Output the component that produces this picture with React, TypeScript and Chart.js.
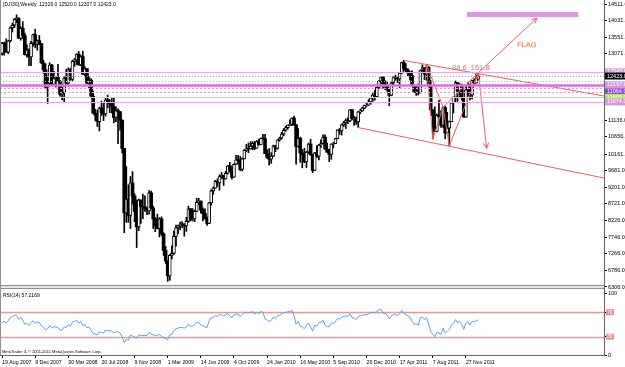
import React, { useEffect, useRef } from 'react';
import { Chart, registerables } from 'chart.js';

Chart.register(...registerables);

const FONT = '"Liberation Sans", Arial, sans-serif';

const symbolName = '[DJI30],Weekly';

// x-axis date labels and the bar index each one sits on
const dateLabels = ['19 Aug 2007', '9 Dec 2007', '30 Mar 2008', '20 Jul 2008', '9 Nov 2008', '1 Mar 2009', '14 Jun 2009', '4 Oct 2009', '24 Jan 2010', '16 May 2010', '5 Sep 2010', '26 Dec 2010', '17 Apr 2011', '7 Aug 2011', '27 Nov 2011'];
const dateTickIndex = [0, 16, 32, 48, 64, 80, 96, 112, 128, 144, 160, 176, 192, 208, 224];

// weekly OHLC
const opens = [
  13080, 13378, 13358, 13113, 13442, 13821, 13896, 14066, 14093, 13522,
  13806, 13595, 13042, 13176, 12980, 13372, 13625, 13339, 13450, 13366,
  12800, 12606, 12099, 12207, 12743, 12182, 12348, 12381, 12266, 11894,
  11951, 12361, 12216, 12610, 12325, 12849, 12891, 13058, 12746, 12986,
  12480, 12638, 12210, 12308, 11843, 11346, 11288, 11100, 11497, 11370,
  11326, 11734, 11659, 11628, 11544, 11220, 11422, 11388, 11143, 10325,
  8451, 8852, 8378, 9325, 8943, 8497, 8046, 8829, 8635, 8629,
  8579, 8515, 9034, 8599, 8281, 8077, 8000, 8280, 7850, 7366,
  7062, 6627, 7224, 7279, 7776, 8018, 8083, 8131, 8131, 8076,
  8212, 8575, 8268, 8277, 8500, 8764, 8799, 8539, 8438, 8280,
  8146, 8743, 9093, 9172, 9370, 9321, 9505, 9544, 9441, 9605,
  9820, 9665, 9488, 9865, 9996, 9972, 9713, 10023, 10270, 10318,
  10310, 10388, 10471, 10329, 10520, 10428, 10618, 10610, 10173, 10067,
  10012, 10099, 10402, 10325, 10567, 10625, 10742, 10850, 10927, 10997,
  11019, 11204, 11009, 10380, 10620, 10193, 10137, 9931, 10212, 10450,
  10144, 9686, 10198, 10097, 10424, 10466, 10654, 10303, 10214, 10150,
  10448, 10463, 10608, 10860, 10830, 11006, 11063, 11133, 11118, 11445,
  11193, 11204, 11092, 11382, 11410, 11492, 11573, 11578, 11675, 11787,
  11872, 11824, 12092, 12273, 12391, 12130, 12170, 12044, 11859, 12221,
  12377, 12380, 12342, 12505, 12811, 12638, 12596, 12512, 12441, 12151,
  11952, 12004, 11934, 12582, 12657, 12480, 12681, 12143, 11445, 11269,
  10818, 11285, 11240, 10992, 11510, 10771, 10913, 11103, 11644, 11809,
  12231, 11983, 12153, 11796, 11231, 12019, 12184, 11866, 12294, 12218,
  12326,
];
const highs = [
  13400, 13410, 13500, 13460, 13850, 13960, 14090, 14198, 14120, 13850,
  14000, 13670, 13330, 13210, 13430, 13640, 13780, 13470, 13600, 13370,
  12880, 12780, 12380, 12810, 12760, 12560, 12400, 12760, 12300, 12170,
  12400, 12620, 12660, 12650, 12880, 12930, 13070, 13140, 13020, 13140,
  12690, 12640, 12390, 12350, 11990, 11460, 11440, 11520, 11700, 11630,
  11800, 11870, 11740, 11790, 11790, 11530, 11470, 11400, 11150, 10330,
  9800, 9270, 9510, 9650, 9010, 8830, 8860, 8830, 9000, 8950,
  8620, 9100, 9090, 8650, 8320, 8420, 8320, 8340, 7880, 7480,
  7070, 7250, 7500, 7930, 8100, 8100, 8190, 8200, 8140, 8330,
  8650, 8580, 8580, 8540, 8880, 8880, 8800, 8600, 8570, 8330,
  8760, 9130, 9210, 9400, 9440, 9560, 9630, 9550, 9660, 9830,
  9920, 9800, 9880, 10120, 10120, 10090, 10050, 10290, 10440, 10480,
  10520, 10520, 10530, 10550, 10590, 10630, 10730, 10730, 10290, 10320,
  10200, 10420, 10410, 10580, 10650, 10790, 10900, 10960, 11000, 11150,
  11210, 11260, 11020, 10900, 10650, 10290, 10330, 10240, 10480, 10590,
  10150, 10210, 10400, 10440, 10570, 10720, 10720, 10480, 10300, 10460,
  10500, 10620, 10870, 10900, 11030, 11110, 11180, 11210, 11450, 11450,
  11260, 11230, 11400, 11460, 11520, 11580, 11630, 11740, 11790, 11920,
  12010, 12100, 12290, 12390, 12400, 12290, 12260, 12050, 12250, 12420,
  12450, 12390, 12520, 12830, 12876, 12780, 12640, 12560, 12570, 12160,
  12130, 12190, 12600, 12750, 12660, 12750, 12690, 12290, 11450, 11530,
  11330, 11720, 11420, 11520, 11550, 11370, 11120, 11650, 11820, 12280,
  12230, 12200, 12190, 11800, 12110, 12230, 12190, 12300, 12340, 12480,
  12520,
];
const lows = [
  13030, 13030, 13110, 13070, 13410, 13700, 13830, 13970, 13510, 13460,
  13500, 13030, 12970, 12720, 12720, 13290, 13240, 13170, 13330, 12790,
  12500, 12050, 11630, 12130, 12140, 12170, 12100, 12260, 11840, 11730,
  11650, 12200, 12170, 12300, 12280, 12700, 12750, 12730, 12720, 12460,
  12400, 12200, 12070, 11820, 11330, 11130, 10960, 10830, 11280, 11130,
  11260, 11500, 11360, 11350, 11060, 11100, 10460, 10850, 10190, 7880,
  8180, 8180, 8000, 8710, 8200, 7450, 7940, 8150, 8290, 8500,
  8400, 8420, 8580, 8000, 7910, 7990, 7760, 7800, 7220, 6990,
  6470, 6500, 7120, 7250, 7490, 7850, 7960, 8020, 7780, 7920,
  8180, 8220, 8220, 8200, 8490, 8680, 8450, 8220, 8280, 8090,
  8140, 8680, 8990, 9170, 9220, 9110, 9450, 9250, 9430, 9580,
  9640, 9430, 9480, 9860, 9870, 9680, 9670, 10020, 10230, 10200,
  10300, 10280, 10290, 10330, 10420, 10430, 10590, 10170, 10030, 9840,
  9890, 10090, 10230, 10300, 10530, 10590, 10690, 10820, 10880, 10980,
  10980, 10990, 9870, 10360, 9920, 9760, 9910, 9770, 10180, 10120,
  9620, 9680, 10060, 9990, 10350, 10460, 10300, 10210, 9940, 10010,
  10340, 10460, 10600, 10730, 10710, 10960, 10900, 11040, 11100, 11150,
  10990, 11020, 10930, 11330, 11400, 11470, 11530, 11570, 11610, 11690,
  11720, 11820, 12060, 12210, 12070, 12030, 11980, 11560, 11850, 12160,
  12300, 12230, 12090, 12490, 12560, 12550, 12430, 12310, 12140, 11940,
  11860, 11870, 11930, 12560, 12320, 12300, 12120, 11380, 10600, 10820,
  10800, 11230, 10930, 10930, 10600, 10770, 10400, 11100, 11350, 11650,
  11690, 11790, 11720, 11230, 11230, 11830, 11730, 11760, 12190, 12220,
  12307,
];
const closes = [
  13378, 13358, 13113, 13442, 13821, 13896, 14066, 14093, 13522, 13806,
  13595, 13042, 13176, 12980, 13372, 13625, 13339, 13450, 13366, 12800,
  12606, 12099, 12207, 12743, 12182, 12348, 12381, 12266, 11894, 11951,
  12361, 12216, 12610, 12325, 12849, 12891, 13058, 12746, 12986, 12480,
  12638, 12210, 12308, 11843, 11346, 11288, 11100, 11497, 11370, 11326,
  11734, 11659, 11628, 11544, 11220, 11422, 11388, 11143, 10325, 8451,
  8852, 8378, 9325, 8943, 8497, 8046, 8829, 8635, 8629, 8579,
  8515, 9034, 8599, 8281, 8077, 8000, 8280, 7850, 7366, 7062,
  6627, 7224, 7279, 7776, 8018, 8083, 8131, 8130, 8076, 8212,
  8575, 8268, 8277, 8500, 8764, 8799, 8539, 8438, 8280, 8146,
  8743, 9093, 9172, 9370, 9321, 9505, 9544, 9441, 9605, 9820,
  9665, 9488, 9865, 9996, 9972, 9713, 10023, 10270, 10318, 10310,
  10388, 10471, 10329, 10520, 10428, 10618, 10610, 10173, 10067, 10012,
  10099, 10402, 10325, 10567, 10625, 10742, 10850, 10927, 10997, 11019,
  11204, 11009, 10380, 10620, 10193, 10137, 9931, 10212, 10450, 10144,
  9686, 10198, 10097, 10424, 10466, 10654, 10303, 10214, 10150, 10448,
  10463, 10608, 10860, 10830, 11006, 11063, 11133, 11118, 11445, 11193,
  11204, 11092, 11382, 11410, 11492, 11573, 11578, 11675, 11787, 11872,
  11824, 12092, 12273, 12391, 12130, 12170, 12044, 11859, 12221, 12377,
  12380, 12342, 12505, 12811, 12638, 12596, 12512, 12441, 12151, 11952,
  12004, 11934, 12582, 12657, 12480, 12681, 12143, 11445, 11269, 10818,
  11285, 11240, 10992, 11510, 10771, 10913, 11103, 11644, 11809, 12231,
  11983, 12153, 11796, 11231, 12019, 12184, 11866, 12294, 12218, 12360,
  12423,
];

// RSI(14)
const rsiValues = [
  53, 55, 52, 56, 61, 63, 65, 65, 58, 62,
  57, 50, 52, 48, 53, 56, 52, 54, 53, 48,
  45, 41, 43, 48, 44, 46, 46, 45, 40, 41,
  46, 45, 50, 47, 54, 55, 57, 52, 55, 48,
  50, 45, 46, 40, 35, 34, 33, 38, 37, 36,
  41, 40, 40, 39, 36, 38, 38, 36, 30, 20,
  26, 24, 33, 31, 29, 27, 33, 32, 32, 32,
  32, 37, 34, 33, 32, 32, 34, 31, 28, 27,
  25, 33, 34, 40, 43, 44, 45, 45, 44, 46,
  51, 47, 47, 50, 53, 53, 49, 48, 46, 45,
  56, 61, 62, 64, 63, 66, 66, 64, 66, 68,
  64, 61, 66, 67, 67, 63, 66, 69, 70, 69,
  70, 71, 67, 70, 68, 71, 70, 59, 57, 55,
  57, 62, 60, 64, 65, 67, 69, 70, 71, 71,
  73, 65, 50, 55, 47, 46, 43, 48, 52, 46,
  39, 49, 47, 53, 54, 57, 49, 47, 46, 52,
  52, 55, 60, 59, 62, 63, 64, 63, 68, 61,
  61, 58, 63, 64, 65, 66, 66, 67, 69, 70,
  69, 72, 74, 75, 68, 68, 65, 59, 64, 66,
  66, 65, 68, 73, 68, 66, 64, 62, 55, 50,
  51, 49, 61, 62, 58, 61, 51, 38, 34, 30,
  37, 36, 34, 44, 36, 39, 42, 49, 52, 58,
  53, 55, 50, 42, 52, 54, 49, 55, 54, 56,
  57.2169,
];

const priceTicks = [14511, 14031, 13551, 13071, 11136, 10656, 10161, 9681, 9201, 8721, 8226, 7746, 7266, 6786, 6306];
const rsiTicks = [100, 70, 30, 0];
const rsiLevels = [70, 30];

// horizontal price levels drawn across the chart
const levelPrices = [12545, 12423, 12290, 12167, 12090, 11964, 11805, 11674];
const levelStyles = [
  { color: '#e8a8e8', width: 1, dash: [] as number[], box: '#d996d9', text: '#ffffff' },
  { color: '#a8a8a8', width: 1, dash: [1, 2], box: '#000000', text: '#ffffff' },
  { color: '#b8b8b8', width: 1, dash: [1, 2], box: '', text: '' },
  { color: '#d870d8', width: 2.5, dash: [] as number[], box: '#d996d9', text: '#ffffff' },
  { color: '#e0a0e0', width: 1, dash: [2, 2], box: '', text: '' },
  { color: '#e0a0e0', width: 1, dash: [2, 2], box: '#8a3be6', text: '#ffffff' },
  { color: '#b8e878', width: 1, dash: [] as number[], box: '#a8e860', text: '#ffffff' },
  { color: '#e8a8e8', width: 1, dash: [] as number[], box: '#d996d9', text: '#ffffff' },
];

// drawn objects (bar index, price)
const upperChannel = [{ x: 194, y: 12876 }, { x: 300, y: 11745 }];
const lowerChannel = [{ x: 172, y: 10929 }, { x: 300, y: 9350 }];
const patternXAB = [{ x: 205, y: 12750 }, { x: 208, y: 10600 }, { x: 213, y: 11520 }, { x: 205, y: 12750 }];
const patternBCD = [{ x: 213, y: 11520 }, { x: 216, y: 10400 }, { x: 230, y: 12520 }, { x: 213, y: 11520 }];
const arrowUp = [{ x: 230, y: 12520 }, { x: 258.3, y: 14105 }];
const arrowDown = [{ x: 230, y: 12520 }, { x: 234, y: 10326 }];
const flagBox = { from: 224.5, to: 278.3, top: 14279, bottom: 14134 };
const flagText = { at: 248.7, price: 13322, text: 'FLAG' };
const fibText = { at: 217.3, price: 12655, text: '88.6  161.8' };

const X_MIN = -1;
const X_MAX = 290.7;
const RED = '#e06262';

const mainOverlay = {
  id: 'mainOverlay',
  beforeDatasetsDraw(chart: any) {
    const { ctx, scales: { x, y } } = chart;
    ctx.save();
    const fx0 = x.getPixelForValue(flagBox.from);
    const fx1 = x.getPixelForValue(flagBox.to);
    const fy0 = y.getPixelForValue(flagBox.top);
    const fy1 = y.getPixelForValue(flagBox.bottom);
    ctx.fillStyle = '#dd99dd';
    ctx.fillRect(fx0, fy0, fx1 - fx0, fy1 - fy0);
    ctx.restore();
  },
  afterDatasetsDraw(chart: any) {
    const { ctx, chartArea: a, scales: { x, y } } = chart;
    ctx.save();
    levelPrices.forEach((p, k) => {
      const st = levelStyles[k];
      const py = Math.round(y.getPixelForValue(p)) + 0.5;
      ctx.strokeStyle = st.color;
      ctx.lineWidth = st.width;
      ctx.setLineDash(st.dash);
      ctx.beginPath();
      ctx.moveTo(a.left, py);
      ctx.lineTo(a.right, py);
      ctx.stroke();
    });
    ctx.setLineDash([]);
    chart.data.datasets.forEach((ds: any, idx: number) => {
      if (!ds.arrowHead) return;
      const pts = chart.getDatasetMeta(idx).data;
      const p1 = pts[pts.length - 2];
      const p2 = pts[pts.length - 1];
      const ang = Math.atan2(p2.y - p1.y, p2.x - p1.x);
      ctx.strokeStyle = ds.borderColor;
      ctx.lineWidth = 1;
      ctx.beginPath();
      ctx.moveTo(p2.x - 6 * Math.cos(ang - 0.45), p2.y - 6 * Math.sin(ang - 0.45));
      ctx.lineTo(p2.x, p2.y);
      ctx.lineTo(p2.x - 6 * Math.cos(ang + 0.45), p2.y - 6 * Math.sin(ang + 0.45));
      ctx.stroke();
    });
    ctx.font = `7.5px ${FONT}`;
    ctx.fillStyle = '#ec6a4a';
    ctx.textBaseline = 'middle';
    ctx.textAlign = 'left';
    ctx.fillText(flagText.text, x.getPixelForValue(flagText.at), y.getPixelForValue(flagText.price));
    ctx.fillText(fibText.text, x.getPixelForValue(fibText.at), y.getPixelForValue(fibText.price));
    ctx.restore();
  },
  afterDraw(chart: any) {
    const { ctx, chartArea: a, scales: { y } } = chart;
    ctx.save();
    ctx.font = `5.5px ${FONT}`;
    ctx.textBaseline = 'middle';
    ctx.textAlign = 'left';
    levelPrices.forEach((p, k) => {
      const st = levelStyles[k];
      if (!st.box) return;
      const py = y.getPixelForValue(p);
      ctx.fillStyle = st.box;
      ctx.fillRect(a.right + 1, py - 3.5, 24, 7);
      ctx.fillStyle = st.text;
      ctx.fillText(p.toFixed(1), a.right + 3, py);
    });
    // title
    const n = closes.length - 1;
    ctx.fillStyle = '#000';
    ctx.font = `5px ${FONT}`;
    ctx.fillText(`${symbolName}  ${opens[n].toFixed(1)} ${highs[n].toFixed(1)} ${lows[n].toFixed(1)} ${closes[n].toFixed(1)}`, 3, 5);
    // sub-window separator
    const h = chart.height;
    ctx.fillStyle = '#e4e4e4';
    ctx.fillRect(0, h - 3.5, a.right, 3);
    ctx.strokeStyle = '#909090';
    ctx.lineWidth = 1;
    ctx.beginPath();
    ctx.moveTo(0, h - 3.5); ctx.lineTo(a.right, h - 3.5);
    ctx.moveTo(0, h - 0.5); ctx.lineTo(a.right, h - 0.5);
    ctx.moveTo(0.5, 0); ctx.lineTo(0.5, h);
    ctx.stroke();
    ctx.restore();
  },
};

const rsiOverlay = {
  id: 'rsiOverlay',
  beforeDatasetsDraw(chart: any) {
    const { ctx, chartArea: a, scales: { y } } = chart;
    ctx.save();
    ctx.strokeStyle = '#e49a9a';
    ctx.lineWidth = 1.5;
    rsiLevels.forEach((v) => {
      const py = Math.round(y.getPixelForValue(v)) + 0.5;
      ctx.beginPath();
      ctx.moveTo(a.left, py);
      ctx.lineTo(a.right, py);
      ctx.stroke();
    });
    ctx.restore();
  },
  afterDraw(chart: any) {
    const { ctx, chartArea: a, scales: { y } } = chart;
    ctx.save();
    ctx.font = `5px ${FONT}`;
    ctx.textBaseline = 'middle';
    ctx.textAlign = 'left';
    rsiLevels.forEach((v) => {
      const py = y.getPixelForValue(v);
      ctx.fillStyle = '#e88a8a';
      ctx.fillRect(a.right + 2, py - 3, 8, 6);
      ctx.fillStyle = '#ffffff';
      ctx.fillText(String(v), a.right + 3, py);
    });
    ctx.fillStyle = '#000';
    ctx.fillText(`RSI(14) ${rsiValues[rsiValues.length - 1].toFixed(4)}`, 3, 7);
    ctx.font = `4px ${FONT}`;
    ctx.fillText('MetaTrader 4, © 2001-2011 MetaQuotes Software Corp.', 2, a.bottom - 3);
    ctx.strokeStyle = '#909090';
    ctx.lineWidth = 1;
    ctx.beginPath();
    ctx.moveTo(0.5, 0); ctx.lineTo(0.5, a.bottom);
    ctx.stroke();
    ctx.restore();
  },
};

const lineDs = (data: any[], extra: any = {}) => ({
  type: 'line',
  data,
  borderColor: RED,
  borderWidth: 1,
  pointRadius: 0,
  fill: false,
  tension: 0,
  order: 0,
  ...extra,
});

export default function App() {
  const mainRef = useRef<HTMLCanvasElement>(null);
  const rsiRef = useRef<HTMLCanvasElement>(null);

  useEffect(() => {
    document.body.style.margin = '0';
    Chart.defaults.font.family = FONT;

    const isBull = (i: number) => closes[i] >= opens[i];

    const main = new Chart(mainRef.current as HTMLCanvasElement, {
      type: 'bar',
      data: {
        datasets: [
          {
            type: 'bar',
            data: opens.map((o, i) => ({ x: i, y: [lows[i], highs[i]] })),
            backgroundColor: '#000',
            barThickness: 1,
            grouped: false,
            order: 3,
          },
          {
            type: 'bar',
            data: opens.map((o, i) => ({ x: i, y: [o, closes[i]] })),
            backgroundColor: (c: any) => (isBull(c.dataIndex) ? '#ffffff' : '#000000'),
            borderColor: '#000',
            borderWidth: (c: any) => (isBull(c.dataIndex) ? 1 : 0),
            borderSkipped: false,
            barThickness: 3,
            grouped: false,
            order: 2,
          },
          lineDs(upperChannel),
          lineDs(lowerChannel),
          lineDs(patternXAB),
          lineDs(patternBCD),
          lineDs(arrowUp, { arrowHead: true }),
          lineDs(arrowDown, { arrowHead: true }),
        ] as any,
      },
      options: {
        responsive: false,
        animation: false,
        devicePixelRatio: 1,
        events: [],
        layout: { padding: 0 },
        plugins: { legend: { display: false }, tooltip: { enabled: false }, title: { display: false } },
        scales: {
          x: { type: 'linear', min: X_MIN, max: X_MAX, offset: false, display: false, grid: { offset: false } },
          y: {
            type: 'linear',
            position: 'right',
            min: 6248,
            max: 14627,
            afterBuildTicks: (s: any) => { s.ticks = priceTicks.map((v) => ({ value: v })); },
            afterFit: (s: any) => { s.width = 21; s.paddingTop = 0; s.paddingBottom = 0; },
            ticks: {
              callback: (v: any) => Number(v).toFixed(1),
              font: { size: 5.5, family: FONT },
              color: '#000',
              padding: 1,
              autoSkip: false,
            },
            grid: { drawOnChartArea: false, drawTicks: true, tickLength: 3, color: '#000' },
            border: { display: true, color: '#666' },
          },
        },
      } as any,
      plugins: [mainOverlay],
    });

    const rsi = new Chart(rsiRef.current as HTMLCanvasElement, {
      type: 'line',
      data: {
        datasets: [
          {
            data: rsiValues.map((v, i) => ({ x: i, y: v })),
            borderColor: '#5aa0f0',
            borderWidth: 1,
            pointRadius: 0,
            fill: false,
            tension: 0,
          },
        ],
      },
      options: {
        responsive: false,
        animation: false,
        devicePixelRatio: 1,
        events: [],
        layout: { padding: 0 },
        plugins: { legend: { display: false }, tooltip: { enabled: false }, title: { display: false } },
        scales: {
          x: {
            type: 'linear',
            min: X_MIN,
            max: X_MAX,
            offset: false,
            afterBuildTicks: (s: any) => { s.ticks = dateTickIndex.map((v) => ({ value: v })); },
            afterFit: (s: any) => { s.height = 12; s.paddingLeft = 0; s.paddingRight = 0; },
            ticks: {
              callback: (v: any, i: number) => dateLabels[i],
              align: 'start',
              autoSkip: false,
              maxRotation: 0,
              minRotation: 0,
              padding: 1,
              font: { size: 5.2, family: FONT },
              color: '#000',
            },
            grid: { drawOnChartArea: false, drawTicks: true, tickLength: 3, color: '#000', offset: false },
            border: { display: true, color: '#666' },
          },
          y: {
            type: 'linear',
            position: 'right',
            min: 0,
            max: 108,
            afterBuildTicks: (s: any) => { s.ticks = rsiTicks.map((v) => ({ value: v })); },
            afterFit: (s: any) => { s.width = 21; s.paddingTop = 0; s.paddingBottom = 0; },
            ticks: {
              callback: (v: any) => (v === 100 || v === 0 ? String(v) : ''),
              font: { size: 5.5, family: FONT },
              color: '#000',
              padding: 1,
              autoSkip: false,
            },
            grid: { drawOnChartArea: false, drawTicks: true, tickLength: 3, color: '#000' },
            border: { display: true, color: '#666' },
          },
        },
      } as any,
      plugins: [rsiOverlay],
    });

    return () => {
      main.destroy();
      rsi.destroy();
    };
  }, []);

  return (
    <div style={{ position: 'relative', width: 625, height: 367, background: '#fff', overflow: 'hidden' }}>
      <canvas ref={mainRef} width={625} height={289} style={{ position: 'absolute', left: 0, top: 0 }} />
      <canvas ref={rsiRef} width={625} height={78} style={{ position: 'absolute', left: 0, top: 289 }} />
    </div>
  );
}
